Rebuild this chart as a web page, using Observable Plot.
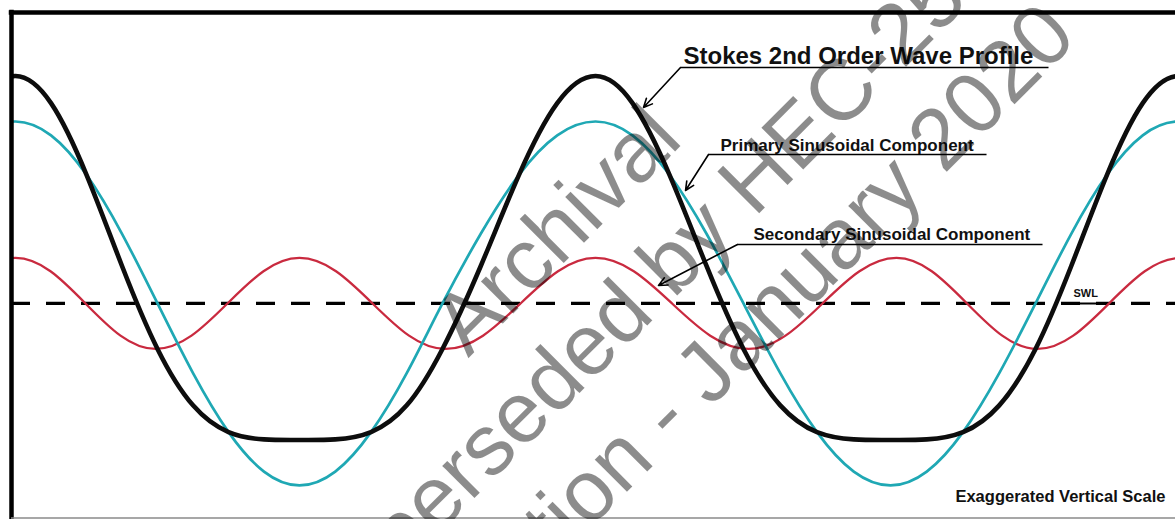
<!DOCTYPE html>
<html>
<head>
<meta charset="utf-8">
<script src="https://cdn.jsdelivr.net/npm/d3@7"></script>
<script src="https://cdn.jsdelivr.net/npm/@observablehq/plot@0.6"></script>
<style>
  html, body { margin: 0; padding: 0; background: #fff; }
  #chart { width: 1175px; height: 519px; overflow: hidden; }
  #chart svg { overflow: hidden; }
</style>
</head>
<body>
<div id="chart"></div>
<script>
// Distance along the wave (arbitrary units) for the primary / Stokes samples
const waveX = [-11.51, -5.41, 0.69, 6.79, 12.89, 18.99, 25.09, 31.19, 37.29, 43.38, 49.48,
  55.63, 61.77, 67.91, 74.05, 80.63, 87.20, 93.77, 100.34, 106.70, 113.06, 119.42, 125.77,
  132.09, 138.40, 144.72, 151.03, 157.26, 163.49, 169.72, 175.95, 182.09, 188.23, 194.37,
  200.52, 206.70, 212.89];
// Primary sinusoidal component (elevation, exaggerated units)
const primary = [0.707, 0.924, 1, 0.924, 0.707, 0.383, 0, -0.383, -0.707, -0.924, -1, -0.924,
  -0.707, -0.383, 0, 0.383, 0.707, 0.924, 1, 0.924, 0.707, 0.383, 0, -0.383, -0.707, -0.924,
  -1, -0.924, -0.707, -0.383, 0, 0.383, 0.707, 0.924, 1, 0.924, 0.707];
// Stokes 2nd order wave profile
const stokes = [0.707, 1.101, 1.25, 1.101, 0.707, 0.206, -0.25, -0.56, -0.707, -0.747, -0.75,
  -0.747, -0.707, -0.56, -0.25, 0.206, 0.707, 1.101, 1.25, 1.101, 0.707, 0.206, -0.25, -0.56,
  -0.707, -0.747, -0.75, -0.747, -0.707, -0.56, -0.25, 0.206, 0.707, 1.101, 1.25, 1.101, 0.707];
// Secondary sinusoidal component (own sample positions)
const secondX = [-11.34, -5.33, 0.69, 6.70, 12.71, 18.73, 24.74, 30.93, 37.11, 43.30, 49.48,
  55.76, 62.03, 68.30, 74.57, 81.01, 87.46, 93.90, 100.34, 106.92, 113.49, 120.06, 126.63,
  132.99, 139.35, 145.70, 152.06, 158.12, 164.18, 170.23, 176.29, 182.43, 188.57, 194.72,
  200.86, 207.04, 213.23];
const secondary = [0, 0.177, 0.25, 0.177, 0, -0.177, -0.25, -0.177, 0, 0.177, 0.25, 0.177, 0,
  -0.177, -0.25, -0.177, 0, 0.177, 0.25, 0.177, 0, -0.177, -0.25, -0.177, 0, 0.177, 0.25,
  0.177, 0, -0.177, -0.25, -0.177, 0, 0.177, 0.25, 0.177, 0];

const swl = [0];
const labelTexts = ["Stokes 2nd Order Wave Profile", "Primary Sinusoidal Component",
  "Secondary Sinusoidal Component", "SWL", "Exaggerated Vertical Scale"];
const watermarkText = ["Archival", "Superseded by HEC-25", "3rd Edition - January 2020"];

// annotation anchors, in data units
const labelAnchors = [
  {text: labelTexts[0], x: 115.46, y: 1.3187, ux1: 114.95, ux2: 178.18, uy: 1.2967, ax: 108.59, ay: 1.0769},
  {text: labelTexts[1], x: 121.82, y: 0.8352, ux1: 119.76, ux2: 167.53, uy: 0.8187, ax: 115.81, ay: 0.6209},
  {text: labelTexts[2], x: 127.49, y: 0.3462, ux1: 124.74, ux2: 177.15, uy: 0.3242, ax: 111.17, ay: 0.0989}
];
const swlAnchor = [{text: labelTexts[3], x: 182.47, y: 0.033, ux1: 180.76, ux2: 187.97, uy: 0}];
const scaleNote = [{text: labelTexts[4], x: 198.28, y: -1.0934}];
const watermark = [{text: watermarkText.join("\n"), x: 105.6, y: 0.02}];

const waveData = waveX.map((x, i) => ({x, primary: primary[i], stokes: stokes[i]}));
const secondData = secondX.map((x, i) => ({x, secondary: secondary[i]}));

const xDomain = [0, 200];
const yDomain = [-1.179, 1.599];
const font = "'Liberation Sans', Arial, sans-serif";

const chart = Plot.plot({
  width: 1175,
  height: 519,
  marginLeft: 11,
  marginRight: 0,
  marginTop: 12,
  marginBottom: 1.5,
  x: {domain: xDomain, axis: null},
  y: {domain: yDomain, axis: null},
  style: {background: "#fff", fontFamily: font, overflow: "hidden"},
  marks: [
    Plot.ruleY(swl, {stroke: "#000", strokeWidth: 3.2, strokeDasharray: "19,16"}),
    Plot.line(secondData, {x: "x", y: "secondary", stroke: "#c92a3f", strokeWidth: 2.3, curve: "natural", clip: true}),
    Plot.line(waveData, {x: "x", y: "primary", stroke: "#1fa8b4", strokeWidth: 2.7, curve: "natural", clip: true}),
    Plot.line(waveData, {x: "x", y: "stokes", stroke: "#0d0d0d", strokeWidth: 4.6, curve: "natural", clip: true}),
    // frame
    Plot.ruleX([xDomain[0]], {stroke: "#000", strokeWidth: 4.5, strokeLinecap: "square"}),
    Plot.ruleY([yDomain[1]], {stroke: "#000", strokeWidth: 4.5, strokeLinecap: "square"}),
    Plot.ruleY([yDomain[0]], {stroke: "#8a8a8a", strokeWidth: 1.5}),
    // annotations
    Plot.link(labelAnchors, {x1: "ux1", x2: "ux2", y1: "uy", y2: "uy", stroke: "#000", strokeWidth: 1.4}),
    Plot.arrow(labelAnchors, {x1: "ux1", y1: "uy", x2: "ax", y2: "ay", stroke: "#000", strokeWidth: 1.6, headLength: 9, headAngle: 50}),
    Plot.text(labelAnchors.slice(0, 1), {x: "x", y: "y", text: "text", textAnchor: "start", lineAnchor: "bottom", fontSize: 24, fontWeight: "bold", fill: "#111"}),
    Plot.text(labelAnchors.slice(1), {x: "x", y: "y", text: "text", textAnchor: "start", lineAnchor: "bottom", fontSize: 17, fontWeight: "bold", fill: "#111"}),
    Plot.link(swlAnchor, {x1: "ux1", x2: "ux2", y1: "uy", y2: "uy", stroke: "#000", strokeWidth: 2}),
    Plot.text(swlAnchor, {x: "x", y: "y", text: "text", textAnchor: "start", lineAnchor: "bottom", fontSize: 11, fontWeight: "bold", fill: "#111"}),
    Plot.text(scaleNote, {x: "x", y: "y", text: "text", textAnchor: "end", lineAnchor: "bottom", fontSize: 16.5, fontWeight: "bold", fill: "#111"}),
    // watermark
    Plot.text(watermark, {x: "x", y: "y", text: "text", rotate: -45, fontSize: 86, lineHeight: 1.2, textAnchor: "middle", lineAnchor: "middle", fill: "#000", fillOpacity: 0.45})
  ]
});
document.getElementById("chart").appendChild(chart);
</script>
</body>
</html>
